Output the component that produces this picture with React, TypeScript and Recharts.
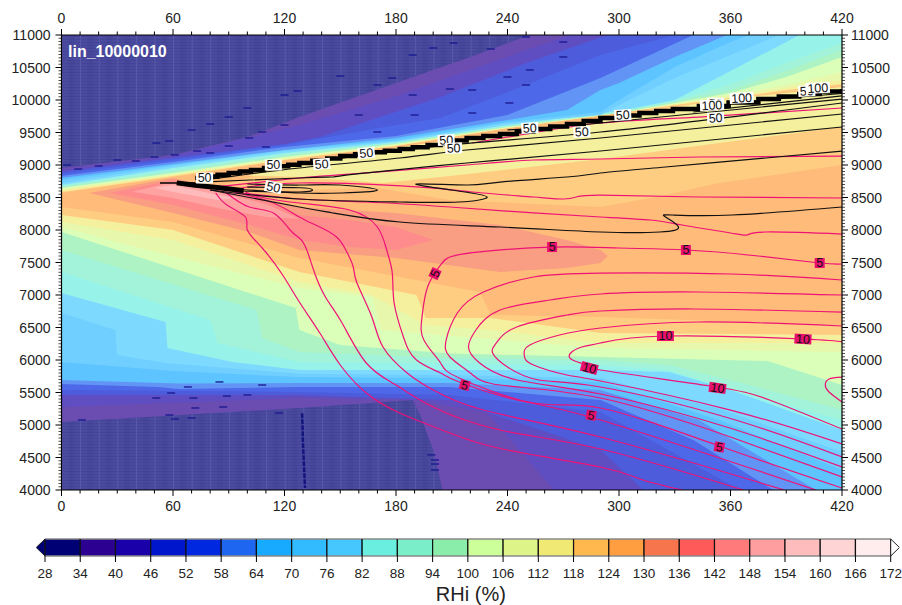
import React from "react";
import { ComposedChart, BarChart, Area, Line, Scatter, Bar, XAxis, YAxis } from "recharts";

type P = number[][];

const LEVELS = [28,34,40,46,52,58,64,70,76,82,88,94,100,106,112,118,124,130,136,142,148,154,160,166,172];
const BAR_COLORS = ["#000075","#2c0090","#1a00a8","#0016cc","#0028e0","#1e66f0","#18aaff","#32bbff","#46c8ff","#6aeee0","#7aeec8","#8aeeaa","#ccff99","#ddf588","#f0ea74","#ffb84d","#ff9e40","#f7754d","#ff5a5a","#ff7a7a","#ff9e9e","#ffbcbc","#ffd4d4","#ffecec"];
const X_TICKS = [0,10,20,30,40,50,60,70,80,90,100,110,120,130,140,150,160,170,180,190,200,210,220,230,240,250,260,270,280,290,300,310,320,330,340,350,360,370,380,390,400,410,420];
const Y_MAJOR = [4000,4500,5000,5500,6000,6500,7000,7500,8000,8500,9000,9500,10000,10500,11000];
const Y_TICKS = Y_MAJOR.flatMap((v, i) => i === 14 ? [v] : [v, v+50, v+100, v+150, v+200, v+250, v+300, v+350, v+400, v+450]);

// Lower edge of each "RHi >= level" region [x, altitude]
const lo34: P = [[0,5046],[128,5262],[189,5385],[193,5154],[200,4615],[205,4000],[420,4000]];
const lo40: P = [[0,5277],[128,5415],[191,5385],[229,5185],[265,4000],[420,4000]];
const lo46: P = [[0,5462],[128,5462],[209,5385],[290,4615],[313,4000],[420,4000]];
const lo52: P = [[0,5538],[128,5508],[209,5462],[290,5200],[365,4000],[420,4000]];
const lo58: P = [[0,5630],[52,5585],[63,5554],[128,5585],[209,5585],[290,5385],[340,4769],[383,4000],[420,4000]];
const lo64: P = [[0,5692],[63,5640],[128,5646],[209,5646],[290,5538],[343,5077],[406,4000],[420,4000]];
const lo70: P = [[0,5969],[60,5830],[128,5738],[209,5723],[290,5660],[354,5077],[420,4308]];
const lo76: P = [[0,6723],[29,6462],[30,6077],[57,5950],[128,5790],[209,5770],[290,5723],[354,5250],[420,4585]];
const lo82: P = [[0,7030],[56,6585],[57,6185],[92,5969],[128,5846],[209,5846],[290,5846],[327,5815],[360,5538],[420,4923]];
const lo88: P = [[0,7354],[80,6615],[84,6262],[128,5969],[209,5950],[290,5923],[327,5846],[370,5462],[420,5077]];
const lo94: P = [[0,7692],[105,6769],[108,6338],[128,6123],[209,6031],[290,6000],[327,5923],[370,5615],[420,5231]];
const lo100: P = [[0,7969],[126,6800],[128,6462],[150,6231],[209,6100],[290,6046],[380,5985],[420,5615]];
const lo106: P = [[0,8046],[46,7692],[128,7108],[167,6969],[172,6462],[236,6308],[290,6185],[420,6123]];
const lo112: P = [[0,8123],[60,7846],[128,7200],[167,7000],[196,6538],[231,6462],[290,6262],[420,6262]];
const lo118: P = [[0,8231],[60,8000],[128,7354],[191,7000],[196,6646],[231,6646],[290,6415],[420,6385]];
const lo124: P = [[0,8354],[60,8123],[128,7569],[225,7046],[231,6692],[290,6662],[420,6538]];

// Upper edge of each "RHi >= level" region
const hi124: P = [[0,8569],[60,8815],[120,9077],[180,9292],[240,9569],[300,9800],[330,9908],[360,10015],[390,10123],[420,10215]];
const hi118: P = [[0,8585],[60,8831],[120,9077],[180,9292],[240,9569],[300,9800],[330,9923],[360,10031],[390,10154],[420,10246]];
const hi112: P = [[0,8615],[60,8846],[120,9092],[180,9308],[240,9569],[300,9800],[330,9938],[360,10046],[390,10185],[420,10308]];
const hi106: P = [[0,8631],[60,8862],[120,9108],[180,9308],[240,9585],[300,9800],[330,9938],[360,10077],[390,10231],[420,10431]];
const hi100: P = [[0,8646],[60,8877],[120,9123],[180,9323],[240,9585],[300,9800],[330,9954],[360,10108],[390,10354],[420,10662]];
const hi94: P = [[0,8660],[60,8892],[120,9138],[180,9338],[240,9600],[300,9815],[330,9969],[360,10154],[390,10446],[420,10769]];
const hi88: P = [[0,8677],[60,8923],[120,9169],[180,9338],[240,9600],[300,9815],[330,9985],[360,10246],[390,10569],[420,10877]];
const hi82: P = [[0,8692],[60,8954],[120,9185],[180,9354],[240,9615],[300,9831],[330,10000],[360,10446],[390,10892],[397,11000]];
const hi76: P = [[0,8723],[60,8985],[120,9215],[180,9369],[240,9646],[290,9769],[300,9923],[330,10338],[360,10692],[386,11000]];
const hi70: P = [[0,8769],[60,9000],[120,9231],[180,9385],[240,9662],[290,9815],[300,10000],[330,10508],[360,10892],[370,11000]];
const hi64: P = [[0,8800],[60,9015],[120,9231],[180,9415],[240,9692],[272,9846],[290,10154],[300,10262],[330,10662],[358,11000]];
const hi58: P = [[0,8831],[60,9046],[120,9277],[180,9446],[240,9769],[290,10338],[340,11000]];
const hi52: P = [[0,8862],[60,9077],[120,9308],[180,9615],[204,9723],[250,10231],[290,10692],[330,11000]];
const hi46: P = [[0,8892],[60,9108],[120,9323],[139,9431],[204,10046],[250,10569],[294,11000]];
const hi40: P = [[0,8923],[60,9138],[128,9615],[182,10077],[250,10769],[274,11000]];
const hi34: P = [[0,8954],[60,9154],[100,9431],[128,9738],[180,10262],[220,10662],[252,11000]];

// Closed islands [x, lower, upper]
const isle130: P = [[15,8569,8569],[60,8262,8800],[101,7969,8540],[128,7692,8354],[180,7569,8262],[236,7354,8077],[272,7415,7846],[290,7492,7692],[294,7600,7600]];
const isle136: P = [[26,8570,8570],[60,8385,8769],[101,8077,8540],[128,7846,8231],[155,7738,8154],[180,7692,8046],[200,7846,7846]];
const isle142: P = [[38,8590,8590],[60,8492,8738],[84,8339,8585],[110,8200,8400],[128,8175,8175]];
const isle148: P = [[50,8650,8650],[60,8585,8692],[84,8462,8538],[95,8500,8500]];
const wedge118: P = [[88,8700,8700],[128,8615,9031],[170,8646,9231],[209,8462,9385],[290,8354,9692],[320,8508,9877],[354,8723,10000],[420,9000,10200]];
const wedge112: P = [[100,8840,8840],[128,8815,9031],[173,8723,9231],[209,8831,9385],[290,9092,9692],[354,9338,10000],[420,9585,10200]];

// Black contours
const ridgeBand: P = [[72,8800],[78,8825],[84,8850],[90,8877],[96,8900],[102,8925],[109,8954],[115,8980],[122,9005],[128,9031],[135,9065],[143,9100],[150,9138],[158,9165],[166,9195],[174,9220],[182,9246],[189,9275],[197,9308],[204,9338],[211,9378],[218,9415],[227,9446],[236,9477],[245,9515],[254,9554],[263,9592],[272,9630],[281,9677],[290,9723],[300,9760],[311,9800],[320,9830],[329,9862],[343,9908],[359,9960],[375,10015],[386,10053],[397,10092],[408,10130],[420,10170]];
const tipBlob: P = [[62,8725],[72,8690],[85,8650],[98,8605]];
const tipLine: P = [[53,8723],[72,8723]];
const blackA: P = [[80,8615],[128,8354],[146,8262],[182,8123],[236,8046],[290,7969],[322,7969],[332,8046],[325,8200],[329,8231],[361,8231],[420,8354]];
const blackB: P = [[80,8615],[128,8477],[182,8431],[214,8431],[229,8508],[210,8615],[191,8708],[218,8692],[236,8738],[272,8815],[290,8877],[325,8969],[379,9108],[420,9215]];
const blackC: P = [[85,8646],[128,8569],[151,8569],[170,8615],[150,8692],[128,8692],[100,8708]];
const blackD: P = [[95,8600],[128,8585],[135,8620],[128,8650],[100,8660]];
const blackE: P = [[75,8738],[128,8800],[146,8815],[159,8862],[218,9031],[290,9215],[420,9585]];
const blackF: P = [[75,8760],[128,8954],[182,9108],[218,9231],[290,9415],[420,9785]];
const blackG: P = [[128,9015],[209,9308],[290,9508],[420,9954]];
const blackH: P = [[240,9540],[290,9646],[420,10015]];
const blackI: P = [[340,9815],[420,10062]];
const blackJ: P = [[370,9980],[420,10100]];

// Pink contours
const pink1: P = [[83,8569],[89,8385],[99,8200],[100,8000],[108,7723],[119,7308],[128,6892],[139,6415],[150,5923],[164,5492],[182,5185],[209,4877],[240,4615],[290,4354],[313,4154],[334,4000]];
const pink2: P = [[88,8585],[101,8354],[114,8262],[123,8000],[128,7877],[132,7692],[137,7277],[143,6923],[151,6569],[164,5954],[180,5615],[200,5277],[236,4923],[290,4631],[367,4000]];
const pink3: P = [[93,8585],[114,8415],[128,8200],[139,8046],[148,7892],[153,7692],[157,7431],[159,7185],[167,6662],[173,6200],[186,5800],[200,5538],[227,5231],[290,4815],[389,4000]];
const pink4: P = [[99,8585],[107,8508],[128,8415],[155,8308],[170,8046],[175,7692],[178,7338],[179,6877],[184,6354],[191,6000],[204,5800],[214,5662],[245,5385],[290,5077],[406,4000]];
const pink5: P = [[420,7477],[408,7492],[375,7600],[336,7692],[300,7723],[264,7738],[225,7662],[209,7585],[204,7462],[197,7123],[194,6662],[195,6308],[204,5954],[214,5723],[254,5338],[290,5262],[354,4677],[420,4030]];
const pink6: P = [[420,7231],[360,7323],[290,7338],[254,7277],[227,7046],[213,6723],[207,6308],[209,6046],[220,5800],[236,5615],[290,5415],[360,4815],[420,4200]];
const pink7: P = [[420,7000],[343,7046],[290,7015],[263,6923],[236,6769],[223,6462],[219,6200],[225,5954],[245,5692],[290,5477],[360,4950],[420,4354]];
const pink8: P = [[420,6738],[340,6785],[290,6754],[272,6692],[245,6508],[234,6262],[232,6108],[240,5892],[257,5692],[290,5585],[360,5100],[420,4508]];
const pink9: P = [[420,6523],[343,6585],[290,6492],[268,6385],[252,6231],[249,6077],[254,5923],[272,5769],[290,5677],[360,5230],[420,4708]];
const pink10: P = [[420,6277],[399,6323],[325,6369],[290,6262],[280,6200],[274,6108],[275,6000],[282,5923],[290,5846],[349,5600],[381,5385],[420,4938]];
const pink11: P = [[420,5738],[413,5708],[411,5615],[413,5508],[420,5354]];
const pinkU1: P = [[221,9338],[250,9477],[290,9646],[343,9738],[420,9877]];
const pinkU2: P = [[83,8662],[128,8800],[157,8862],[218,9000],[254,9077],[290,9092],[343,9123],[420,9138]];
const pinkU3: P = [[91,8615],[128,8723],[191,8662],[221,8585],[254,8508],[270,8477],[277,8508],[290,8538],[343,8508],[420,8492]];
const pinkU4: P = [[93,8585],[128,8477],[164,8431],[209,8354],[254,8262],[290,8200],[317,8154],[334,8077],[360,7954],[369,7923],[379,7969],[420,7938]];

// Contour labels [x, y, text, angle]
const whiteLabels: [number, number, string, number][] = [
  [77,8800,"50",0],[114,9000,"50",0],[140,9015,"50",-5],[164,9185,"50",-5],[114,8660,"50",12],
  [207,9385,"50",-3],[211,9260,"50",-3],[252,9569,"50",-3],[280,9510,"50",-3],[302,9770,"50",-3],
  [352,9725,"50",-3],[352,9950,"50",0],[350,9920,"100",-3],[366,10031,"100",-3],[401,10138,"50",-3],[407,10185,"100",-3],
];
const pinkLabels: [number, number, string, number][] = [
  [264,7738,"5",0],[336,7692,"5",0],[408,7492,"5",0],[201,7330,"5",-65],[217,5615,"5",15],[285,5150,"5",10],[354,4662,"5",10],
  [325,6369,"10",0],[399,6323,"10",3],[284,5877,"10",15],[353,5570,"10",8],
];

// Dark speckles in the contour fill
const speckles: P = [[3,9000],[9,8938],[20,8985],[30,9077],[40,9062],[50,9123],[61,9154],[73,9215],[80,9185],[90,9292],[101,9415],[108,9508],[110,9277],[120,9615],[51,9338],[58,9369],[70,9538],[80,9630],[90,9738],[100,9877],[120,10077],[127,10138],[150,10369],[170,10231],[189,10077],[209,10169],[250,10970],[231,10785],[211,10877],[200,10800],[189,10692],[178,10338],[160,9769],[190,9769],[170,9508],[221,10154],[240,10354],[250,10231],[270,10662],[270,10892],[252,10462],[241,9954],[221,9800],[11,5077],[70,5108],[61,5092],[58,5154],[72,5262],[87,5277],[100,5462],[51,5415],[59,5492],[71,5415],[89,5446],[117,5185],[85,5662],[108,5615],[68,5585],[201,4462],[201,4400],[201,4308],[199,4540]];
const darkStreak: P = [[129.5,5180],[130,4700],[131,4030]];

const blend = (hex: string) => {
  const n = parseInt(hex.slice(1), 16);
  const f = (v: number) => Math.round(0.7 * v + 0.3 * 255).toString(16).padStart(2, "0");
  return "#" + f((n >> 16) & 255) + f((n >> 8) & 255) + f(n & 255);
};
const fillOf = (level: number) => blend(BAR_COLORS[(level - 28) / 6]);

const FONT = "'Liberation Sans', Arial, sans-serif";
const PINK = "#ee1277";
const toBand = (pts: P) => pts.map(([x, y]) => ({ x, band: [y, 11000] }));
const toRange = (pts: P) => pts.map(([x, a, b]) => ({ x, band: [a, b] }));
const toXY = (pts: P) => pts.map(([x, y]) => ({ x, y }));

const loLayers: [number, P][] = [[34,lo34],[40,lo40],[46,lo46],[52,lo52],[58,lo58],[64,lo64],[70,lo70],[76,lo76],[82,lo82],[88,lo88],[94,lo94],[100,lo100],[106,lo106],[112,lo112],[118,lo118],[124,lo124]];
const isles: [number, P][] = [[130,isle130],[136,isle136],[142,isle142],[148,isle148]];
const hiLayers: [number, P][] = [[124,hi124],[118,hi118],[112,hi112],[106,hi106],[100,hi100],[94,hi94],[88,hi88],[82,hi82],[76,hi76],[70,hi70],[64,hi64],[58,hi58],[52,hi52],[46,hi46],[40,hi40],[34,hi34]];
const blackLines = [blackA, blackB, blackC, blackD, blackE, blackF, blackG, blackH, blackI, blackJ];
const pinkLines = [pink1, pink2, pink3, pink4, pink5, pink6, pink7, pink8, pink9, pink10, pink11, pinkU1, pinkU2, pinkU3, pinkU4];

const axisProps = { xAxisId: "b", yAxisId: "l", isAnimationActive: false } as const;

const XTick = (side: "top" | "bottom") => (p: any) => {
  const v = p.payload.value;
  const major = v % 60 === 0;
  const s = side === "top" ? -1 : 1;
  const len = major ? 6 : 3.5;
  return (
    <g>
      <line x1={p.x} x2={p.x} y1={p.y} y2={p.y + s * len} stroke="#000" strokeWidth={1} />
      {major && (
        <text x={p.x} y={side === "top" ? p.y - 12 : p.y + 21} textAnchor="middle" fontSize={14} fontFamily={FONT} fill="#222">{v}</text>
      )}
    </g>
  );
};
const YTick = (side: "left" | "right") => (p: any) => {
  const v = p.payload.value;
  const major = v % 500 === 0;
  const s = side === "left" ? -1 : 1;
  const len = major ? 6 : 3;
  return (
    <g>
      <line x1={p.x} x2={p.x + s * len} y1={p.y} y2={p.y} stroke="#000" strokeWidth={major ? 1 : 0.7} />
      {major && (
        <text x={side === "left" ? p.x - 11 : p.x + 9} y={p.y + 5} textAnchor={side === "left" ? "end" : "start"} fontSize={14} fontFamily={FONT} fill="#222">{v}</text>
      )}
    </g>
  );
};

const LabelBox = (bg: string, h: number) => (p: any) => {
  const { text, angle } = p.payload;
  const w = text.length * 7 + 3;
  return (
    <g transform={`translate(${p.cx},${p.cy}) rotate(${angle})`}>
      <rect x={-w / 2} y={-h / 2} width={w} height={h} fill={bg} />
      <text x={0} y={4.4} textAnchor="middle" fontSize={12.5} fontFamily={FONT} fill="#111">{text}</text>
    </g>
  );
};
const Dash = (p: any) => <rect x={p.cx - 4} y={p.cy - 0.8} width={8} height={1.6} fill="#1a1a90" opacity={0.85} />;

const barRow = [Object.fromEntries([["name", "c"], ["base", 26.5], ["triL", 1.5], ...BAR_COLORS.map((_, i) => ["s" + i, 6]), ["triR", 1.5]])];

const Segment = (color: string) => (p: any) => (
  <g>
    <rect x={p.x} y={p.y} width={p.width} height={p.height} fill={color} />
    <line x1={p.x} x2={p.x + p.width} y1={p.y} y2={p.y} stroke="#888" strokeWidth={1.5} />
    <line x1={p.x} x2={p.x + p.width} y1={p.y + p.height} y2={p.y + p.height} stroke="#888" strokeWidth={1.5} />
    <line x1={p.x} x2={p.x} y1={p.y} y2={p.y + p.height} stroke="#111" strokeWidth={1.2} />
    <line x1={p.x + p.width} x2={p.x + p.width} y1={p.y} y2={p.y + p.height} stroke="#111" strokeWidth={1.2} />
  </g>
);
const TriLeft = (p: any) => (
  <path d={`M${p.x + p.width},${p.y} L${p.x},${p.y + p.height / 2} L${p.x + p.width},${p.y + p.height} Z`} fill="#000075" stroke="#222" strokeWidth={1} />
);
const TriRight = (p: any) => (
  <path d={`M${p.x},${p.y} L${p.x + p.width},${p.y + p.height / 2} L${p.x},${p.y + p.height} Z`} fill="#ffffff" stroke="#222" strokeWidth={1} />
);

export default function App() {
  return (
    <div style={{ position: "absolute", left: 0, top: 0, width: 902, height: 605, background: "#fff" }}>
      <ComposedChart width={902} height={525} margin={{ top: 0, right: 0, bottom: 0, left: 0 }}>
        <defs>
          <pattern id="navyStripes" patternUnits="userSpaceOnUse" x={61.5} y={35} width={18.6} height={3}>
            <rect width={18.6} height={3} fill="#4a4a9e" />
            <rect width={18.6} height={1} y={1} fill="#3c3c92" opacity={0.4} />
            <rect width={1} height={3} x={0} fill="#6a6ab4" opacity={0.5} />
            <rect width={6} height={3} x={7} fill="#36368e" opacity={0.2} />
          </pattern>
        </defs>
        <XAxis xAxisId="b" orientation="bottom" type="number" dataKey="x" domain={[0, 420]} ticks={X_TICKS} interval={0} allowDataOverflow height={35} tickSize={0} tickMargin={0} tickLine={false} tick={XTick("bottom")} axisLine={{ stroke: "#000", strokeWidth: 1.2 }} />
        <XAxis xAxisId="t" orientation="top" type="number" dataKey="x" domain={[0, 420]} ticks={X_TICKS} interval={0} allowDataOverflow height={35} tickSize={0} tickMargin={0} tickLine={false} tick={XTick("top")} axisLine={{ stroke: "#000", strokeWidth: 1.2 }} />
        <YAxis yAxisId="l" orientation="left" type="number" dataKey="y" domain={[4000, 11000]} ticks={Y_TICKS} interval={0} allowDataOverflow width={61.5} tickSize={0} tickMargin={0} tickLine={false} tick={YTick("left")} axisLine={{ stroke: "#000", strokeWidth: 1.2 }} />
        <YAxis yAxisId="r" orientation="right" type="number" dataKey="y" domain={[4000, 11000]} ticks={Y_TICKS} interval={0} allowDataOverflow width={60} tickSize={0} tickMargin={0} tickLine={false} tick={YTick("right")} axisLine={{ stroke: "#000", strokeWidth: 1.2 }} />

        <Area {...axisProps} data={toRange([[0, 4000, 11000], [420, 4000, 11000]])} dataKey="band" stroke="none" fill="url(#navyStripes)" fillOpacity={1} dot={false} activeDot={false} />
        {loLayers.map(([lv, pts]) => (
          <Area key={"lo" + lv} {...axisProps} data={toBand(pts)} dataKey="band" stroke="none" fill={fillOf(lv)} fillOpacity={1} dot={false} activeDot={false} />
        ))}
        {isles.map(([lv, pts]) => (
          <Area key={"is" + lv} {...axisProps} data={toRange(pts)} dataKey="band" stroke="none" fill={fillOf(lv)} fillOpacity={1} dot={false} activeDot={false} />
        ))}
        {hiLayers.map(([lv, pts]) => (
          <Area key={"hi" + lv} {...axisProps} data={toBand(pts)} dataKey="band" stroke="none" fill={lv === 34 ? "url(#navyStripes)" : fillOf(lv - 6)} fillOpacity={1} dot={false} activeDot={false} />
        ))}
        <Area {...axisProps} data={toRange(wedge118)} dataKey="band" stroke="none" fill={fillOf(118)} fillOpacity={1} dot={false} activeDot={false} />
        <Area {...axisProps} data={toRange(wedge112)} dataKey="band" stroke="none" fill={fillOf(112)} fillOpacity={1} dot={false} activeDot={false} />

        <Line {...axisProps} data={toXY(darkStreak)} dataKey="y" stroke="#14147e" strokeWidth={2.5} strokeDasharray="5 1" dot={false} activeDot={false} />
        <Scatter {...axisProps} data={toXY(speckles)} dataKey="y" shape={Dash} />

        {pinkLines.map((pts, i) => (
          <Line key={"p" + i} {...axisProps} data={toXY(pts)} dataKey="y" type="natural" stroke={PINK} strokeWidth={1.2} dot={false} activeDot={false} />
        ))}
        {blackLines.map((pts, i) => (
          <Line key={"k" + i} {...axisProps} data={toXY(pts)} dataKey="y" type="natural" stroke="#111" strokeWidth={1.2} dot={false} activeDot={false} />
        ))}
        <Line {...axisProps} data={toXY(ridgeBand)} dataKey="y" type="stepAfter" stroke="#000" strokeWidth={4.5} dot={false} activeDot={false} />
        <Line {...axisProps} data={toXY(tipBlob)} dataKey="y" stroke="#000" strokeWidth={5} dot={false} activeDot={false} />
        <Line {...axisProps} data={toXY(tipLine)} dataKey="y" stroke="#000" strokeWidth={1.6} dot={false} activeDot={false} />

        <Scatter {...axisProps} data={whiteLabels.map(([x, y, text, angle]) => ({ x, y, text, angle }))} dataKey="y" shape={LabelBox("#ffffff", 11)} />
        <Scatter {...axisProps} data={pinkLabels.map(([x, y, text, angle]) => ({ x, y, text, angle }))} dataKey="y" shape={LabelBox("#e8106e", 10)} />
      </ComposedChart>

      <div style={{ position: "absolute", left: 68, top: 43, color: "#fff", fontFamily: FONT, fontWeight: 700, fontSize: 16, lineHeight: "18px" }}>lin_10000010</div>

      <div style={{ position: "absolute", left: 0, top: 530 }}>
        <BarChart width={902} height={75} layout="vertical" data={barRow} margin={{ top: 9, right: 2.5, bottom: 0, left: 36.2 }} barCategoryGap={0}>
          <YAxis type="category" dataKey="name" hide />
          <XAxis type="number" domain={[26.5, 173.5]} ticks={LEVELS} interval={0} allowDataOverflow height={49} axisLine={false} tickSize={6} tickMargin={6} tickLine={{ stroke: "#000", strokeWidth: 1 }} tick={{ fontSize: 13.5, fontFamily: FONT, fill: "#222" }} label={{ value: "RHi (%)", position: "insideBottom", offset: 4, dx: 3, fontSize: 20, fontFamily: FONT, fill: "#222" }} />
          <Bar dataKey="base" stackId="c" fill="none" isAnimationActive={false} />
          <Bar dataKey="triL" stackId="c" shape={TriLeft} isAnimationActive={false} />
          {BAR_COLORS.map((c, i) => (
            <Bar key={i} dataKey={"s" + i} stackId="c" shape={Segment(c)} isAnimationActive={false} />
          ))}
          <Bar dataKey="triR" stackId="c" shape={TriRight} isAnimationActive={false} />
        </BarChart>
      </div>
    </div>
  );
}
